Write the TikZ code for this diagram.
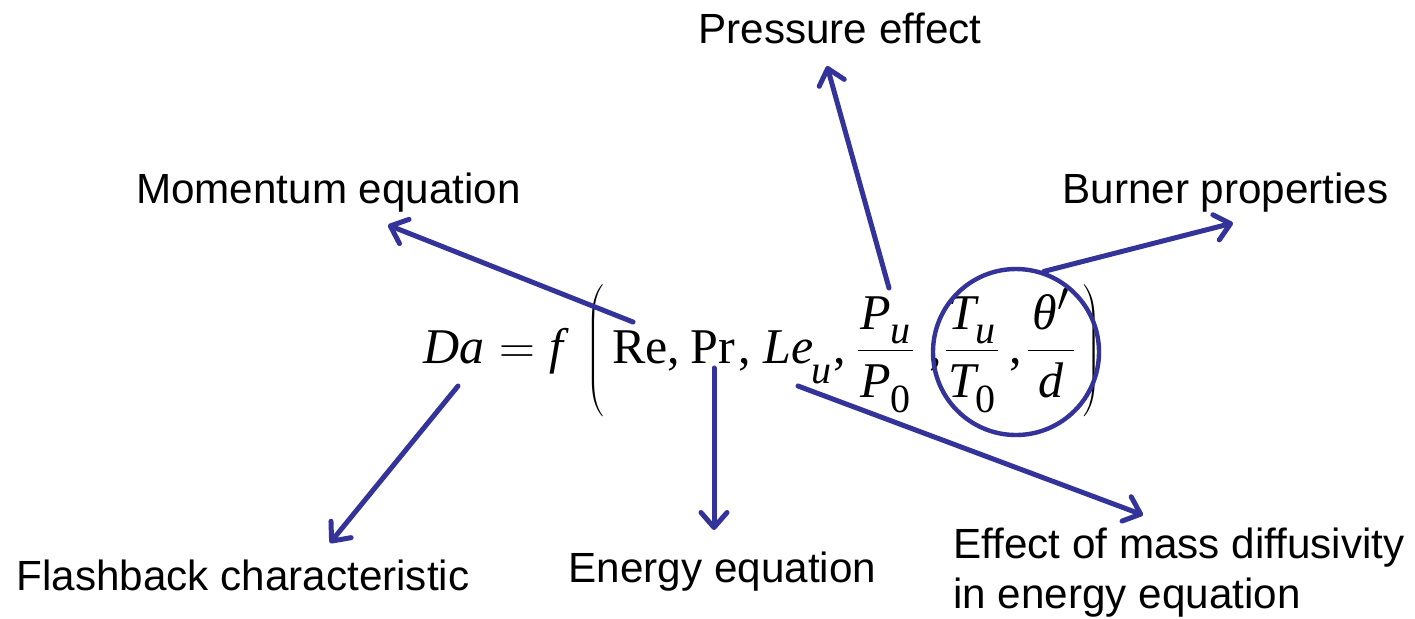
\documentclass[tikz,border=0pt]{standalone}
\usepackage{fontspec}
\setmainfont{Liberation Serif}
\newfontfamily\labfont{Liberation Sans}
\usetikzlibrary{arrows.meta}
\definecolor{arrowblue}{RGB}{51,51,153}
\DeclareMathSizes{25}{25}{20}{15}
\newcommand\subit[2]{\raisebox{#1}{\fontsize{20}{22}\selectfont\itshape #2}}
\newcommand\subrm[2]{\raisebox{#1}{\fontsize{20}{22}\selectfont\upshape #2}}
\newcommand\eqfrac[3]{$\displaystyle\frac{\hbox to #1{\hfil #2\hfil}}{\hbox to #1{\hfil #3\hfil}}$}
\newcommand\tallparen[1]{$\left#1\vrule height 40pt depth 29pt width 0pt\right.$}
\tikzset{
  lab/.style={font=\labfont\fontsize{21.1}{25}\selectfont, inner sep=0pt, text=black},
  eqn/.style={font=\fontsize{25}{29}\selectfont, inner sep=0pt, anchor=base west},
  conn/.style={draw=arrowblue, line width=2.5pt, line cap=round,
    -{Straight Barb[length=7.5pt,width=13pt,line cap=round,line join=round]}},
  ring/.style={draw=arrowblue, line width=2.2pt, circle, minimum size=83pt, inner sep=0pt}
}
\begin{document}
\begin{tikzpicture}[x=0.5pt,y=-0.5pt]
\useasboundingbox (0,0) rectangle (1415,618);
% labels
\node[lab, anchor=base] (pe) at (840,43) {Pressure effect};
\node[lab, anchor=base] (me) at (328.5,203) {Momentum equation};
\node[lab, anchor=base] (bp) at (1225.5,203) {Burner properties};
\node[lab, anchor=base] (fc) at (243,590) {Flashback characteristic};
\node[lab, anchor=base] (ee) at (722.5,582) {Energy equation};
\node[lab, anchor=base west, align=left] (ed) at (953,608) {Effect of mass diffusivity\\in energy equation};
% equation  Da = f( Re, Pr, Le_u, P_u/P_0, T_u/T_0, theta'/d )
\node[eqn] (eqda) at (423,363) {\itshape Da};
\node[eqn, anchor=base] (eqis) at (517,363) {$=$};
\node[eqn] (eqf) at (549,363) {\itshape f};
\node[eqn, anchor=base] (eqlp) at (596,363) {\tallparen(};
\node[eqn] (eqre) at (612,363) {Re,};
\node[eqn] (eqpr) at (690,363) {Pr\kern2pt,};
\node[eqn] (eqle) at (763,363) {\itshape Le\kern-1pt\subit{-10pt}{u}\kern1pt\upshape ,};
\node[eqn] (eqp) at (855.6,363) {\eqfrac{27.1pt}{\itshape P\subit{-7pt}{u}}{\itshape P\subrm{-7.5pt}{0}}};
\node[eqn] (eqc1) at (929,363) {,};
\node[eqn] (eqt) at (943.6,363) {\eqfrac{25.6pt}{\itshape T\subit{-7pt}{u}}{\itshape T\subrm{-7.5pt}{0}}};
\node[eqn] (eqc2) at (1009,363) {,};
\node[eqn] (eqth) at (1025.6,363) {\eqfrac{22.6pt}{\itshape θ$'$}{\itshape d}};
\node[eqn, anchor=base] (eqrp) at (1093,363) {\tallparen)};
\node[ring] (circ) at (1016,352) {};
% connector endpoints
\coordinate (ms) at (633,322);
\coordinate (mt) at (388,225);
\coordinate (ps) at (889,288);
\coordinate (pt) at (827,66);
\coordinate (bt) at (1233,223);
\coordinate (fs) at (458,386);
\coordinate (ft) at (330,543);
\coordinate (es) at (714,368);
\coordinate (et) at (714,530);
\coordinate (ds) at (798,386);
\coordinate (dt) at (1143,515);
% connectors
\draw[conn] (ms) -- (mt);
\draw[conn] (ps) -- (pt);
\draw[conn] (circ.71) -- (bt);
\draw[conn] (fs) -- (ft);
\draw[conn] (es) -- (et);
\draw[conn] (ds) -- (dt);
\end{tikzpicture}
\end{document}
